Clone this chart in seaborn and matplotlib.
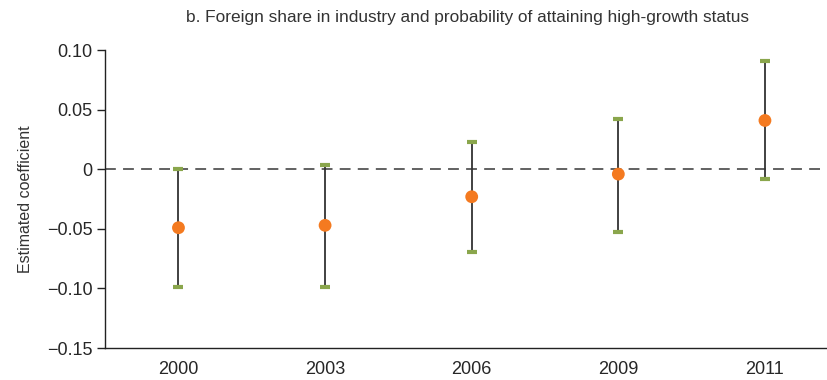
import matplotlib
matplotlib.use("Agg")
import matplotlib.pyplot as plt
import seaborn as sns
import pandas as pd

# --------------------------
# Data
# --------------------------
years = ["2000", "2003", "2006", "2009", "2011"]
coef = [-0.049, -0.047, -0.023, -0.004, 0.041]
upper = [0.000, 0.004, 0.023, 0.042, 0.091]
lower = [-0.099, -0.099, -0.069, -0.053, -0.008]

df = pd.DataFrame({"year": years, "coef": coef, "upper": upper, "lower": lower})

sns.set_style("white")
plt.rcParams["font.family"] = ["Liberation Sans", "DejaVu Sans"]

fig = plt.figure(figsize=(8.28, 3.8), dpi=100)
ax = fig.add_axes([0.127, 0.084, 0.873, 0.784])

# whiskers and caps
ax.vlines(df.index, df["lower"], df["upper"], color="#333333", lw=1.3, zorder=2)
ax.scatter(df.index, df["upper"], marker="_", s=50, color="#8aa64c", linewidths=3, zorder=3)
ax.scatter(df.index, df["lower"], marker="_", s=50, color="#8aa64c", linewidths=3, zorder=3)

# point estimates
sns.scatterplot(x=df.index, y=df["coef"], color="#f47a20", s=85, edgecolor="none",
                zorder=4, ax=ax)

ax.axhline(0, color="#555555", lw=1.3, ls=(0, (6, 4)), zorder=1)

ax.set_ylim(-0.15, 0.10)
ax.set_yticks([-0.15, -0.10, -0.05, 0, 0.05, 0.10])
ax.set_yticklabels(["\u22120.15", "\u22120.10", "\u22120.05", "0", "0.05", "0.10"])
ax.set_xlim(-0.5, 4.43)
ax.set_xticks(range(len(years)))
ax.set_xticklabels(years)
ax.set_xticks([i + 0.5 for i in range(-1, 4)], minor=True)

ax.tick_params(axis="x", which="major", length=0, labelsize=13, pad=9)
ax.tick_params(axis="x", which="minor", length=5, width=1, color="#222222", direction="out")
ax.tick_params(axis="y", length=6, width=1, color="#222222", labelsize=13, pad=3,
               left=True, direction="out")

for s in ["top", "right"]:
    ax.spines[s].set_visible(False)
for s in ["left", "bottom"]:
    ax.spines[s].set_color("#222222")
    ax.spines[s].set_linewidth(1)

ax.set_xlabel("")
ax.set_ylabel("Estimated coefficient", fontsize=11.5, labelpad=10, color="#333333")
fig.text(0.565, 0.955, "b. Foreign share in industry and probability of attaining high-growth status",
         ha="center", va="center", fontsize=12.4, color="#333333")

fig.savefig("out.png", dpi=100)
